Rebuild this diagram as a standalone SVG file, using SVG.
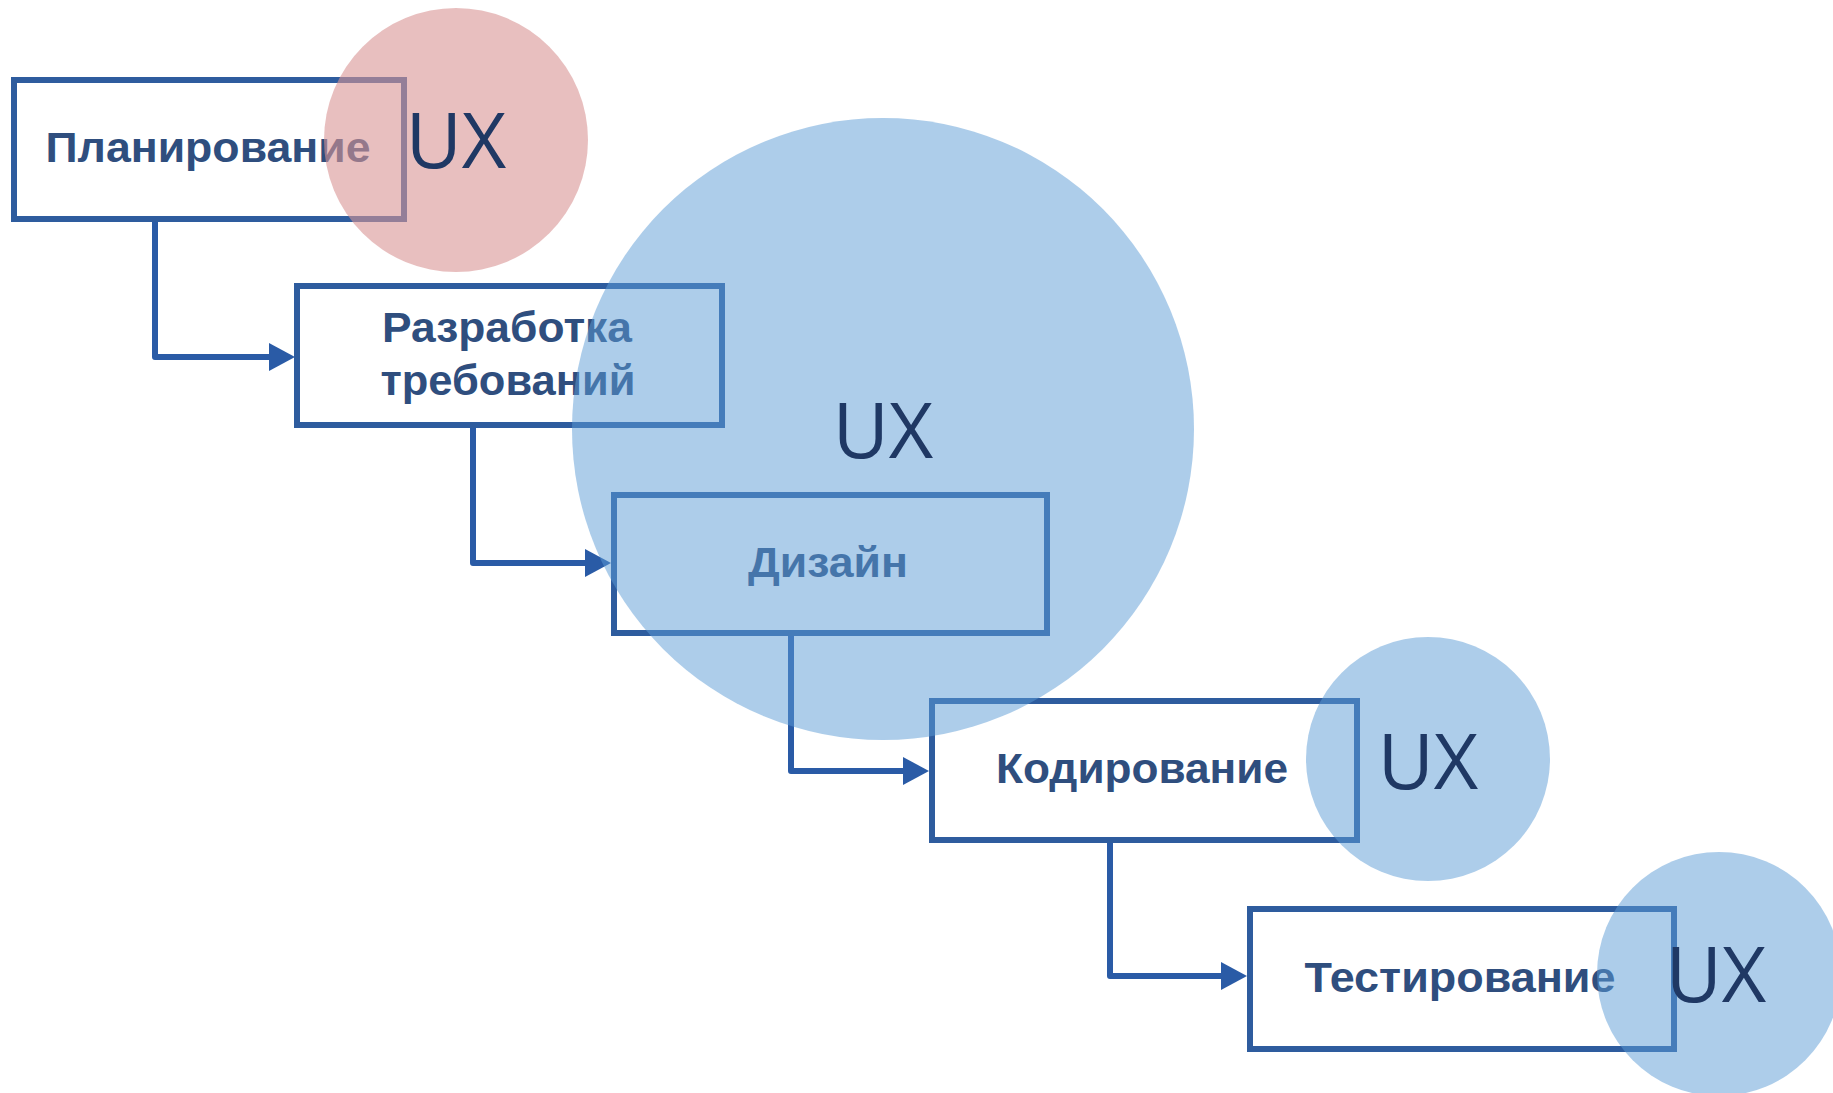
<svg xmlns="http://www.w3.org/2000/svg" width="1833" height="1093" viewBox="0 0 1833 1093">
  <style>
    .box { fill: #ffffff; stroke: #2e5c9e; stroke-width: 6; }
    .lbl { font-family: "Liberation Sans", Arial, sans-serif; font-weight: bold; font-size: 42px; fill: #2f4e7e; text-anchor: middle; }
    .conn { fill: none; stroke: #2a5ba6; stroke-width: 6; stroke-linejoin: round; }
    .blue { fill: #5b9bd5; fill-opacity: 0.5; }
    .pink { fill: #d99594; fill-opacity: 0.6; }
    .ux { font-family: "Open Sans", "Liberation Sans", sans-serif; font-size: 77px; fill: #1f3864; text-anchor: middle; }
  </style>
  <defs>
    <marker id="arrow" markerUnits="userSpaceOnUse" markerWidth="26" markerHeight="28" refX="16" refY="14" orient="auto">
      <path d="M0,0 L26,14 L0,28 Z" fill="#2a5ba6"/>
    </marker>
  </defs>
  <rect width="1833" height="1093" fill="#ffffff"/>

  <g id="connectors">
    <path class="conn" d="M155,219 V357 H285" marker-end="url(#arrow)"/>
    <path class="conn" d="M473,425 V563 H601" marker-end="url(#arrow)"/>
    <path class="conn" d="M791,634 V771 H919" marker-end="url(#arrow)"/>
    <path class="conn" d="M1110,840 V976 H1237" marker-end="url(#arrow)"/>
  </g>

  <g id="node-planning">
    <rect class="box" x="14" y="80" width="390" height="139"/>
    <text class="lbl" x="208" y="162" textLength="325" lengthAdjust="spacingAndGlyphs">Планирование</text>
  </g>
  <g id="node-requirements">
    <rect class="box" x="297" y="286" width="425" height="139"/>
    <text class="lbl" x="507" y="342" textLength="250" lengthAdjust="spacingAndGlyphs">Разработка</text>
    <text class="lbl" x="508" y="395" textLength="255" lengthAdjust="spacingAndGlyphs">требований</text>
  </g>
  <g id="node-design">
    <rect class="box" x="614" y="495" width="433" height="138"/>
    <text class="lbl" x="828" y="577" textLength="160" lengthAdjust="spacingAndGlyphs">Дизайн</text>
  </g>
  <g id="node-coding">
    <rect class="box" x="932" y="701" width="425" height="139"/>
    <text class="lbl" x="1142" y="783" textLength="292" lengthAdjust="spacingAndGlyphs">Кодирование</text>
  </g>
  <g id="node-testing">
    <rect class="box" x="1250" y="909" width="424" height="140"/>
    <text class="lbl" x="1460" y="992" textLength="311" lengthAdjust="spacingAndGlyphs">Тестирование</text>
  </g>

  <g id="ux-planning">
    <circle class="pink" cx="456" cy="140" r="132"/>
    <text class="ux" x="456" y="168">UX</text>
  </g>
  <g id="ux-design">
    <circle class="blue" cx="883" cy="429" r="311"/>
    <text class="ux" x="883" y="458">UX</text>
  </g>
  <g id="ux-coding">
    <circle class="blue" cx="1428" cy="759" r="122"/>
    <text class="ux" x="1428" y="789">UX</text>
  </g>
  <g id="ux-testing">
    <circle class="blue" cx="1719" cy="974" r="122"/>
    <text class="ux" x="1716" y="1002">UX</text>
  </g>
</svg>
